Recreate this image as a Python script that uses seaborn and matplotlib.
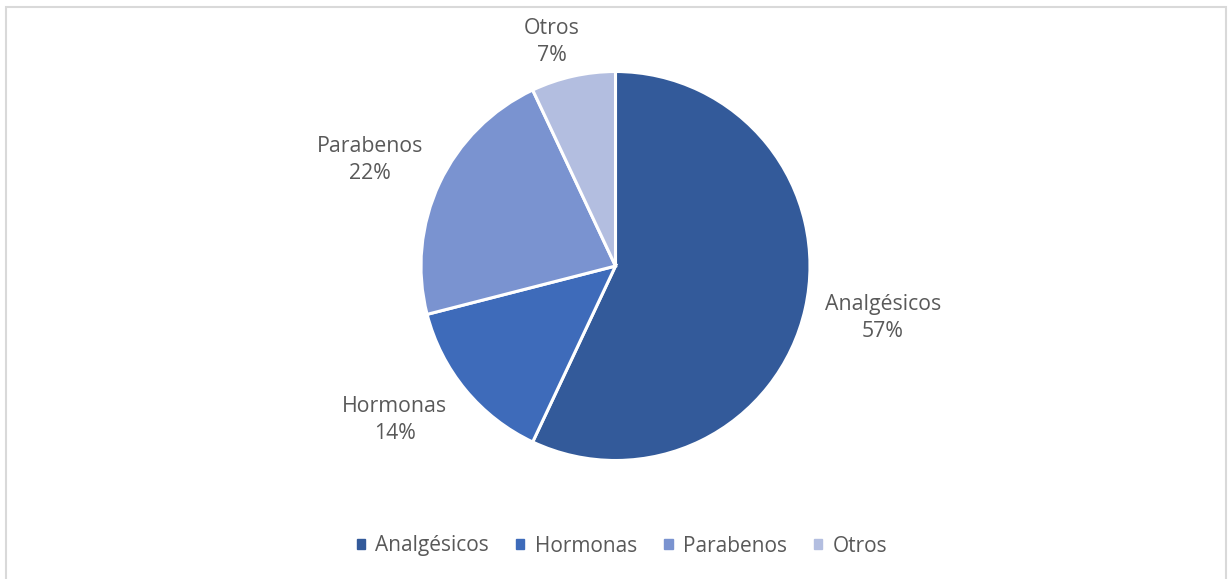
import matplotlib
matplotlib.use("Agg")
import matplotlib.pyplot as plt
import matplotlib.patches as mpatches
import seaborn as sns
import numpy as np

categories = ["Analgésicos", "Hormonas", "Parabenos", "Otros"]
values = [57, 14, 22, 7]
colors = ["#335A9A", "#3E6BBA", "#7A93D0", "#B3BEE0"]

sns.set_theme(style="white")
plt.rcParams['font.family'] = ['Open Sans', 'DejaVu Sans']

fig = plt.figure(figsize=(12.32, 5.79), dpi=100)
ax = fig.add_axes([0, 0, 1, 1])
R = 194.5
cx, cy = 615.5, 266

wedges, _ = ax.pie(values, colors=colors, startangle=90, counterclock=False,
                   radius=1, center=(0, 0), frame=True,
                   wedgeprops=dict(edgecolor='white', linewidth=2.2))
ax.set_xlim(-cx / R, (1232 - cx) / R)
ax.set_ylim((cy - 579) / R, cy / R)
ax.set_aspect('equal')
ax.axis('off')

label_pos = [(1.375, -0.267), (-1.134, -0.792), (-1.262, 0.545), (-0.326, 1.152)]
for cat, v, (lx, ly) in zip(categories, values, label_pos):
    ax.text(lx, ly, f"{cat}\n{v}%", ha='center', va='center', fontsize=15.3,
            color='#595959', linespacing=1.38)

handles = [mpatches.Patch(color=c, label=l) for c, l in zip(colors, categories)]
leg = fig.legend(handles=handles, loc='center',
                 bbox_to_anchor=(0.5 + 6 / 1232, 1 - 546 / 579),
                 ncol=4, frameon=False, fontsize=15, handlelength=0.4, handleheight=0.4,
                 handletextpad=0.5, columnspacing=1.3, labelcolor='#595959')

border = mpatches.Rectangle((6 / 1232, -0.05), (1226 - 6) / 1232, 1 - 7 / 579 + 0.05,
                            transform=fig.transFigure, fill=False, edgecolor='#D9D9D9',
                            linewidth=1.5, clip_on=False)
fig.patches.append(border)

fig.savefig("out.png", dpi=100)
